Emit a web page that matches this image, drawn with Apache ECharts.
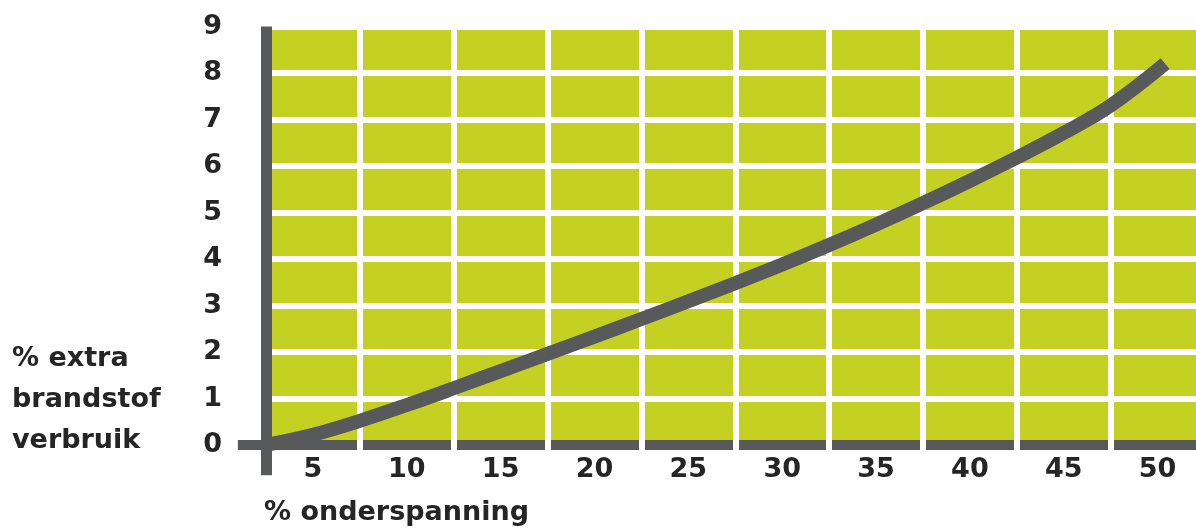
<!DOCTYPE html>
<html>
<head>
<meta charset="utf-8">
<script src="https://cdn.jsdelivr.net/npm/echarts@6/dist/echarts.min.js"></script>
<style>
  html, body { margin: 0; padding: 0; background: #ffffff; }
  #chart { width: 1196px; height: 529px; }
</style>
</head>
<body>
<div id="chart"></div>
<script>
// ---- data ----
const xLabels = ['5', '10', '15', '20', '25', '30', '35', '40', '45', '50'];
const curveX = [2.5, 5, 7.5, 10, 12.5, 15, 17.5, 20, 22.5, 25, 27.5, 30, 32.5, 35, 37.5, 40, 42.5, 45, 47.5, 50.4];
const curveY = [0, 0.22, 0.52, 0.86, 1.22, 1.59, 1.96, 2.33, 2.71, 3.09, 3.48, 3.88, 4.3, 4.74, 5.2, 5.68, 6.18, 6.71, 7.3, 8.2];
const yMin = 0, yMax = 9, yStep = 1;
const xAxisName = '% onderspanning';
const yAxisName = '% extra\nbrandstof\nverbruik';

const GREEN = '#c5d122';
const GRAY = '#58595b';
const TEXT = '#252525';
const FONT = 'DejaVu Sans';
const FS = 27;

const chart = echarts.init(document.getElementById('chart'), null, { renderer: 'canvas' });

const option = {
  backgroundColor: '#ffffff',
  animation: false,
  title: [
    {
      text: yAxisName, left: 12, top: 338, padding: 0,
      textStyle: { fontFamily: FONT, fontWeight: 'bold', fontSize: FS, color: TEXT, lineHeight: 41 }
    },
    {
      text: xAxisName, left: 264, top: 498, padding: 0,
      textStyle: { fontFamily: FONT, fontWeight: 'bold', fontSize: FS, color: TEXT, lineHeight: 30 }
    }
  ],
  grid: [
    // plotting grid (green background, horizontal white lines, curve)
    { left: 266, width: 938.5, top: 26.5, bottom: 84, show: true, backgroundColor: GREEN, borderWidth: 0, z: 0,
      outerBoundsMode: 'none', containLabel: false },
    // axis lines extending beyond the plot
    { left: 237.85, right: 0, top: 26.5, bottom: 53.8, show: false, outerBoundsMode: 'none', containLabel: false },
    // vertical white category separators + x labels
    { left: 266, width: 938.5, top: 26.5, bottom: 79, show: false, outerBoundsMode: 'none', containLabel: false }
  ],
  xAxis: [
    {
      type: 'value', gridIndex: 0, min: 2.5, max: 52.5, z: 1,
      axisLine: { show: false }, axisTick: { show: false }, axisLabel: { show: false }, splitLine: { show: false }
    },
    {
      type: 'value', gridIndex: 1, min: -1.5, max: 49.55, z: 2,
      axisLine: { show: true, onZero: true, lineStyle: { color: GRAY, width: 10, cap: 'butt' } },
      axisTick: { show: false }, axisLabel: { show: false }, splitLine: { show: false }
    },
    {
      type: 'category', gridIndex: 2, data: xLabels, boundaryGap: true, z: 3,
      axisLine: { show: false }, axisTick: { show: false },
      axisLabel: { show: true, margin: 6, fontFamily: FONT, fontWeight: 'bold', fontSize: FS, color: TEXT },
      splitLine: { show: true, lineStyle: { color: '#ffffff', width: 6 } }
    }
  ],
  yAxis: [
    {
      type: 'value', gridIndex: 0, min: yMin, max: yMax, interval: yStep, z: 1,
      axisLine: { show: false }, axisTick: { show: false },
      axisLabel: { show: true, margin: 44, fontFamily: FONT, fontWeight: 'bold', fontSize: FS, color: TEXT },
      splitLine: { show: true, lineStyle: { color: '#ffffff', width: 6 } }
    },
    {
      type: 'value', gridIndex: 1, min: -0.65, max: 9, z: 4,
      axisLine: { show: true, onZero: true, lineStyle: { color: GRAY, width: 11, cap: 'butt' } },
      axisTick: { show: false }, axisLabel: { show: false }, splitLine: { show: false }
    },
    {
      type: 'value', gridIndex: 2, min: 0, max: 1, show: false
    }
  ],
  series: [
    {
      type: 'line', xAxisIndex: 0, yAxisIndex: 0, z: 10,
      data: curveX.map((x, i) => [x, curveY[i]]),
      smooth: 0.4, showSymbol: false, symbol: 'none', clip: false,
      lineStyle: { color: GRAY, width: 14, cap: 'butt' }
    }
  ]
};

chart.setOption(option);
</script>
</body>
</html>
